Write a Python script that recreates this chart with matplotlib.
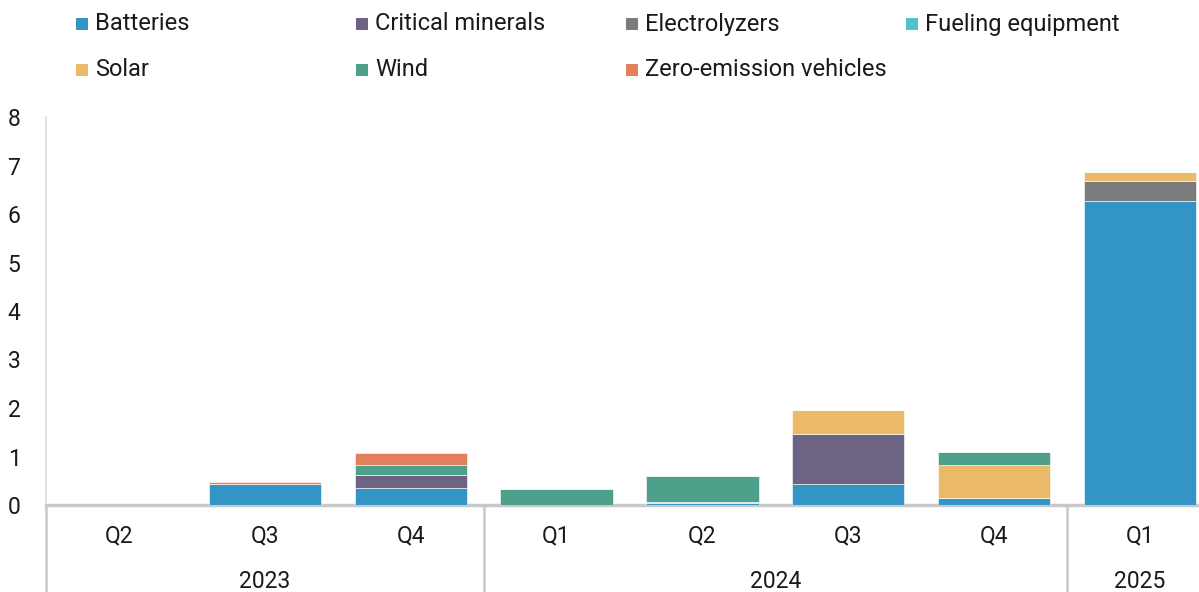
import matplotlib
matplotlib.use("Agg")
import matplotlib.pyplot as plt
import numpy as np

plt.rcParams["font.family"] = ["Roboto", "DejaVu Sans"]

# data
quarters = ["Q2", "Q3", "Q4", "Q1", "Q2", "Q3", "Q4", "Q1"]
years = ["2023", "2024", "2025"]
year_span = [(0, 2), (3, 6), (7, 7)]

series = ["Batteries", "Critical minerals", "Electrolyzers", "Fueling equipment",
          "Solar", "Wind", "Zero-emission vehicles"]
batteries = [0, 0.43, 0.35, 0, 0.05, 0.44, 0.14, 6.27]
critical_minerals = [0, 0, 0.26, 0, 0, 1.02, 0, 0]
electrolyzers = [0, 0, 0, 0, 0, 0, 0, 0.41]
fueling = [0, 0, 0, 0, 0.02, 0, 0, 0]
solar = [0, 0, 0, 0, 0, 0.50, 0.68, 0.19]
wind = [0, 0, 0.22, 0.34, 0.52, 0, 0.27, 0]
zev = [0, 0.05, 0.24, 0, 0, 0, 0, 0]
values = [batteries, critical_minerals, electrolyzers, fueling, solar, wind, zev]

colors = ["#3394C6", "#6C6482", "#7A7C7C", "#4FC4CF", "#EBBA69", "#4DA18A", "#E47F5E"]
TXT = "#1A1A1A"
GRID = "#C8C8C8"
FS = 16.5

W, H = 1199, 592
fig = plt.figure(figsize=(W / 100, H / 100), dpi=100)
ax = fig.add_axes([46 / W, (H - 505) / H, (W - 46) / W, (505 - 117) / H])

x = np.arange(len(quarters))
bottom = np.zeros(len(quarters))
for name, vals, c in zip(series, values, colors):
    vals = np.array(vals)
    ax.bar(x, vals, 0.77, bottom=bottom, color=c, edgecolor="white",
           linewidth=0.4, zorder=3)
    bottom += vals

ax.set_xlim(-0.5, 7.5 - 14 / 146)
ax.set_ylim(0, 8)
ax.set_yticks(range(0, 9))
ax.tick_params(axis="y", length=0, labelsize=FS, labelcolor=TXT, pad=23)
for lbl in ax.get_yticklabels():
    lbl.set_horizontalalignment("center")

ax.set_xticks(x)
ax.set_xticklabels(quarters)
ax.tick_params(axis="x", length=0, labelsize=FS, labelcolor=TXT, pad=14)

for s in ["top", "right"]:
    ax.spines[s].set_visible(False)
ax.spines["bottom"].set_color(GRID)
ax.spines["bottom"].set_linewidth(2.5)
ax.spines["left"].set_color("#DDDDDD")
ax.spines["left"].set_linewidth(1.2)

# multi-level category axis
tr = ax.get_xaxis_transform()
px = 1 / (505 - 117)
for xs in [-0.5, 2.5, 6.5]:
    ax.plot([xs, xs], [0, -90 * px], transform=tr, color=GRID, lw=1.8,
            clip_on=False, zorder=1)
for yr, (a, b) in zip(years, year_span):
    ax.text((a + b) / 2, -76 * px, yr, transform=tr, ha="center", va="center",
            fontsize=FS, color=TXT)

# legend
leg_x = [76, 356, 626, 906]
leg_y = [24, 70]
for i, (name, c) in enumerate(zip(series, colors)):
    lx = leg_x[i % 4] / W
    ly = 1 - leg_y[i // 4] / H
    fig.patches.append(plt.Rectangle((lx, ly - 6 / H), 12 / W, 12 / H,
                                     transform=fig.transFigure, fc=c, ec="none"))
    fig.text(lx + 19 / W, ly, name, ha="left", va="center", fontsize=17, color=TXT)

fig.savefig("out.png", dpi=100)
